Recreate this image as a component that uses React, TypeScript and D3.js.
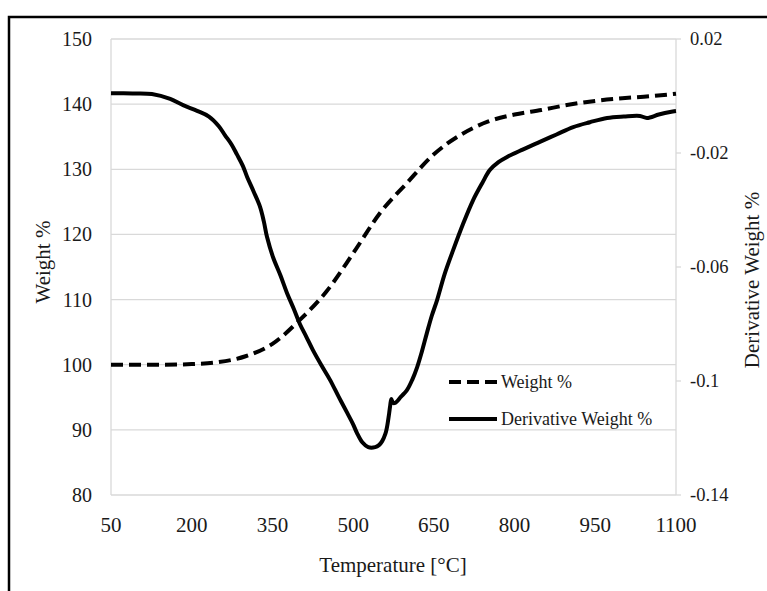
import React from "react";
import * as d3 from "d3";

const xTicks = [50, 200, 350, 500, 650, 800, 950, 1100];
const leftTicks = [80, 90, 100, 110, 120, 130, 140, 150];
const rightTicks = [0.02, -0.02, -0.06, -0.1, -0.14];
const rightTickLabels = ["0.02", "-0.02", "-0.06", "-0.1", "-0.14"];

const weightTemp = [50, 100, 150, 200, 250, 300, 350, 400, 450, 500, 550, 600, 650, 700, 750, 800, 850, 900, 950, 1000, 1050, 1100];
const weightVals = [100.0, 100.0, 100.0, 100.1, 100.4, 101.3, 103.2, 106.8, 111.2, 117.1, 123.3, 127.9, 132.3, 135.3, 137.3, 138.4, 139.1, 139.9, 140.5, 140.9, 141.2, 141.6];

const derivTemp = [50, 90, 126, 160, 184, 210, 232, 250, 262, 274, 284, 295, 303, 315, 327, 334, 340, 351, 365, 377, 390, 401, 413, 425, 441, 457, 473, 489, 500, 507, 517, 528, 541, 548, 554, 560, 563, 567, 569, 571, 574, 578, 589, 600, 610, 619, 628, 637, 646, 656, 670, 686, 704, 723, 740, 754, 770, 786, 815, 847, 878, 909, 940, 972, 1003, 1033, 1046, 1068, 1089, 1100];
const derivVals = [0.0010, 0.0009, 0.0007, -0.0010, -0.0032, -0.0052, -0.0072, -0.0105, -0.0138, -0.0170, -0.0205, -0.0245, -0.0284, -0.0335, -0.0389, -0.0440, -0.0495, -0.0565, -0.0630, -0.0691, -0.0748, -0.0800, -0.0845, -0.0891, -0.0945, -0.0996, -0.1055, -0.1112, -0.1152, -0.1182, -0.1215, -0.1232, -0.1232, -0.1225, -0.1211, -0.1185, -0.1161, -0.1112, -0.1084, -0.1063, -0.1077, -0.1077, -0.1055, -0.1032, -0.0995, -0.0951, -0.0895, -0.0832, -0.0772, -0.0716, -0.0625, -0.0540, -0.0450, -0.0365, -0.0305, -0.0260, -0.0232, -0.0214, -0.0188, -0.0161, -0.0135, -0.0109, -0.0092, -0.0077, -0.0072, -0.0070, -0.0077, -0.0065, -0.0056, -0.0053];

const FONT = "'Liberation Serif', 'Times New Roman', serif";
const TEXT = "#1a1a1a";
const GRID = "#d9d9d9";

export default function App() {
  const x = d3.scaleLinear().domain([50, 1100]).range([111, 676]);
  const yL = d3.scaleLinear().domain([80, 150]).range([495, 39]);
  const yR = d3.scaleLinear().domain([-0.14, 0.02]).range([495, 39]);

  const weightLine = d3
    .line<number>()
    .x((_, i) => x(weightTemp[i]))
    .y((d) => yL(d))
    .curve(d3.curveMonotoneX);
  const derivLine = d3
    .line<number>()
    .x((_, i) => x(derivTemp[i]))
    .y((d) => yR(d))
    .curve(d3.curveCatmullRom.alpha(0.5));

  const [x0, x1] = x.range();
  const [yb, yt] = yL.range();

  return (
    <svg
      width={767}
      height={591}
      style={{ position: "absolute", left: 0, top: 0, background: "#fff" }}
    >
      <rect x={0} y={0} width={767} height={591} fill="#fff" />
      {/* outer border */}
      <path d="M9,591 L9,17 L767,17" fill="none" stroke="#000" strokeWidth={2.5} />

      {/* gridlines */}
      {leftTicks.map((t) => (
        <line key={"g" + t} x1={x0} x2={x1} y1={yL(t)} y2={yL(t)} stroke={GRID} strokeWidth={1.3} />
      ))}
      {/* axis lines */}
      <line x1={x0} x2={x0} y1={yt} y2={yb} stroke={GRID} strokeWidth={1.3} />
      <line x1={x1} x2={x1} y1={yt} y2={yb} stroke={GRID} strokeWidth={1.3} />
      {rightTicks.map((t) => (
        <line key={"rt" + t} x1={x1} x2={x1 + 5} y1={yR(t)} y2={yR(t)} stroke={GRID} strokeWidth={1.3} />
      ))}

      {/* left tick labels */}
      {leftTicks.map((t) => (
        <text key={"l" + t} x={92} y={yL(t)} dy="0.35em" textAnchor="end" fontFamily={FONT} fontSize={20} fill={TEXT}>
          {t}
        </text>
      ))}
      {/* right tick labels */}
      {rightTicks.map((t, i) => (
        <text key={"r" + t} x={690} y={yR(t)} dy="0.35em" textAnchor="start" fontFamily={FONT} fontSize={18.5} fill={TEXT}>
          {rightTickLabels[i]}
        </text>
      ))}
      {/* bottom tick labels */}
      {xTicks.map((t) => (
        <text key={"b" + t} x={x(t)} y={532} textAnchor="middle" fontFamily={FONT} fontSize={21} fill={TEXT}>
          {t}
        </text>
      ))}

      {/* axis titles */}
      <text x={393} y={572} textAnchor="middle" fontFamily={FONT} fontSize={21} fill={TEXT}>
        Temperature [°C]
      </text>
      <text transform="translate(50,262) rotate(-90)" textAnchor="middle" fontFamily={FONT} fontSize={21} fill={TEXT}>
        Weight %
      </text>
      <text transform="translate(759,280) rotate(-90)" textAnchor="middle" fontFamily={FONT} fontSize={21} fill={TEXT}>
        Derivative Weight %
      </text>

      {/* series */}
      <path d={weightLine(weightVals) || ""} fill="none" stroke="#000" strokeWidth={4} strokeDasharray="12,6" />
      <path d={derivLine(derivVals) || ""} fill="none" stroke="#000" strokeWidth={4} strokeLinejoin="round" />

      {/* legend */}
      <line x1={449} x2={497} y1={382} y2={382} stroke="#000" strokeWidth={4} strokeDasharray="12,6" />
      <text x={501} y={382} dy="0.35em" fontFamily={FONT} fontSize={18} fill={TEXT}>
        Weight %
      </text>
      <line x1={449} x2={497} y1={419} y2={419} stroke="#000" strokeWidth={4} />
      <text x={501} y={419} dy="0.35em" fontFamily={FONT} fontSize={18} fill={TEXT}>
        Derivative Weight %
      </text>
    </svg>
  );
}
